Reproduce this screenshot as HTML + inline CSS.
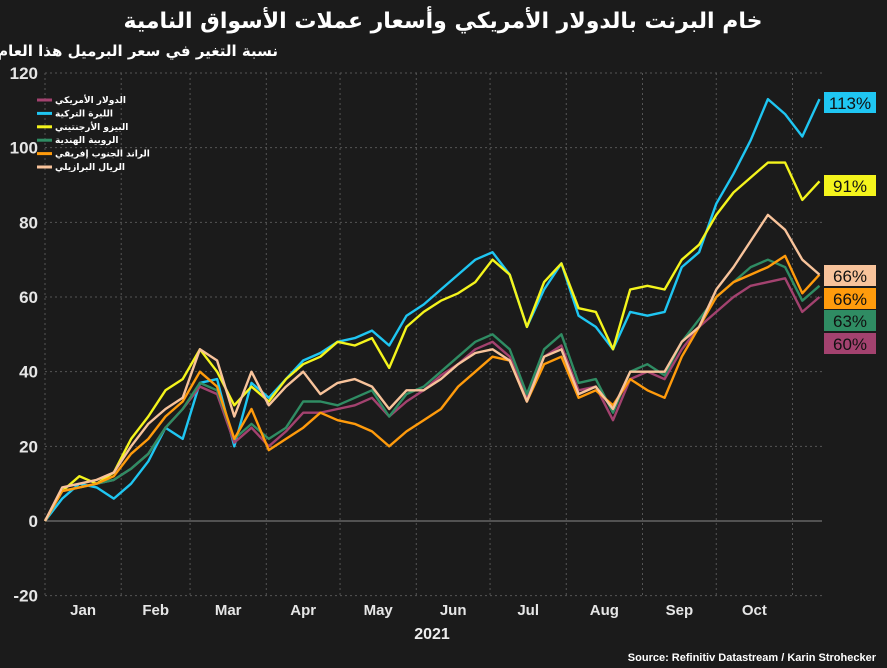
<!DOCTYPE html>
<html><head><meta charset="utf-8"><style>
html,body{margin:0;padding:0;background:#1b1b1b;}
svg{display:block;font-family:"Liberation Sans","DejaVu Sans",sans-serif;}
</style></head><body>
<svg id="chart" width="887" height="668" viewBox="0 0 887 668">
<rect x="0" y="0" width="887" height="668" fill="#1b1b1b"/>
<text x="443" y="28" text-anchor="middle" fill="#fff" font-size="22" font-weight="bold" font-family="DejaVu Sans, sans-serif">خام البرنت بالدولار الأمريكي وأسعار عملات الأسواق النامية</text>
<text x="278" y="56" text-anchor="end" fill="#fff" font-size="15" font-weight="bold" font-family="DejaVu Sans, sans-serif">نسبة التغير في سعر البرميل هذا العام</text>
<g id="grid"></g>
<g id="series"></g>
<g id="legend"></g>
<g id="labels"></g>
<text x="432" y="639" text-anchor="middle" fill="#eee" font-size="16" font-weight="bold">2021</text>
<text x="876" y="661" text-anchor="end" fill="#fff" font-size="11" font-weight="bold">Source: Refinitiv Datastream / Karin Strohecker</text>
</svg>
<script>
const days=[0,7,14,21,28,35,42,49,56,63,70,77,84,91,98,105,112,119,126,133,140,147,154,161,168,175,182,189,196,203,210,217,224,231,238,245,252,259,266,273,280,287,294,301,308,315];
const usd=[0,8,9,10,11,14,18,25,30,36,34,21,25,20,24,29,29,30,31,33,28,32,35,39,42,46,48,44,33,44,47,35,36,27,38,40,38,46,52,56,60,63,64,65,56,60];
const lira=[0,6,10,9,6,10,16,25,22,37,38,20,37,33,38,43,45,48,49,51,47,55,58,62,66,70,72,66,52,62,69,55,52,46,56,55,56,68,72,85,93,102,113,109,103,113];
const peso=[0,8,12,10,13,22,28,35,38,46,40,31,36,32,38,42,44,48,47,49,41,52,56,59,61,64,70,66,52,64,69,57,56,46,62,63,62,70,74,82,88,92,96,96,86,91];
const rupee=[0,8,9,10,11,14,18,25,30,37,35,22,26,22,25,32,32,31,33,35,28,34,36,40,44,48,50,46,34,46,50,37,38,29,40,42,39,48,54,60,64,68,70,68,59,63];
const rand=[0,8,9,10,12,18,22,28,32,40,36,22,30,19,22,25,29,27,26,24,20,24,27,30,36,40,44,43,32,42,44,33,35,31,38,35,33,44,52,60,64,66,68,71,61,66];
const real=[0,9,10,11,13,20,26,30,33,46,43,28,40,31,36,40,34,37,38,36,30,35,35,38,42,45,46,43,32,44,46,34,36,30,40,40,40,48,52,62,68,75,82,78,70,66];
const yTicks=[120,100,80,60,40,20,0,-20];
const months=["Jan","Feb","Mar","Apr","May","Jun","Jul","Aug","Sep","Oct"];
const monthStarts=[0,31,59,90,120,151,181,212,243,273,304];
const seriesNames=["الدولار الأمريكي","الليرة التركية","البيزو الأرجنتيني","الروبية الهندية","الراند الجنوب إفريقي","الريال البرازيلي"];
const endLabels=["60%","113%","91%","63%","66%","66%"];

const NS="http://www.w3.org/2000/svg";
const X0=45,X1=822,D1=316;
const x=d=>X0+(X1-X0)*d/D1;
const y=v=>521-(v)*(448/120);
function mk(tag,attrs,parent){const e=document.createElementNS(NS,tag);for(const k in attrs)e.setAttribute(k,attrs[k]);parent.appendChild(e);return e;}
const grid=document.getElementById('grid');
yTicks.forEach(t=>{
  const l=mk('line',{x1:X0,x2:X1,y1:y(t),y2:y(t),stroke:t===0?'#888':'#555','stroke-width':1,'stroke-dasharray':t===0?'':'2,3'},grid);
  
  
  const tx=mk('text',{x:38,y:y(t)+6,'text-anchor':'end',fill:'#e6e6e6','font-size':17,'font-weight':'bold'},grid);
  tx.textContent=t;
  
  
});
monthStarts.forEach(d=>{
  const l=mk('line',{x1:x(d),x2:x(d),y1:y(120),y2:y(-20),stroke:'#555','stroke-width':1,'stroke-dasharray':'2,3'},grid);
  
  
});
months.forEach((m,i)=>{
  const tx=mk('text',{x:(x(monthStarts[i])+x(monthStarts[i+1]))/2,y:615,'text-anchor':'middle',fill:'#e6e6e6','font-size':15,'font-weight':'bold'},grid);
  tx.textContent=m;
  
  
});
const data=[usd,lira,peso,rupee,rand,real];
const colors=["#a3426f","#1fc6f2","#f4f41c","#2f8c63","#ff9b0c","#f8c39b"];
const keys=["usd","lira","peso","rupee","rand","real"];
const sg=document.getElementById('series');
const drawOrder=[1,2,0,3,4,5];
drawOrder.forEach(i=>{
  const pts=data[i].map((v,j)=>x(days[j]).toFixed(1)+','+y(v).toFixed(1)).join(' ');
  const p=mk('polyline',{points:pts,fill:'none',stroke:colors[i],'stroke-width':2.4,'stroke-linejoin':'round'},sg);
  
  
});
const lg=document.getElementById('legend');
seriesNames.forEach((n,i)=>{
  const yy=100+i*13.4;
  const l=mk('line',{x1:37,x2:52,y1:yy,y2:yy,stroke:colors[i],'stroke-width':3},lg);
  
  
  const t=mk('text',{x:55,y:yy+3,fill:'#fff','font-size':9,'font-weight':'bold','font-family':'DejaVu Sans, sans-serif'},lg);
  t.textContent=n;
  
  
});
const lab=document.getElementById('labels');
const labY=[343,102,185,320,298,275];
[1,2,5,4,3,0].forEach(i=>{
  const r=mk('rect',{x:824,y:labY[i]-10,width:52,height:21,fill:colors[i]},lab);
  
  
  const t=mk('text',{x:850,y:labY[i]+7,'text-anchor':'middle',fill:'#111','font-size':17},lab);
  t.textContent=endLabels[i];
  
  
});
</script>
</body></html>
